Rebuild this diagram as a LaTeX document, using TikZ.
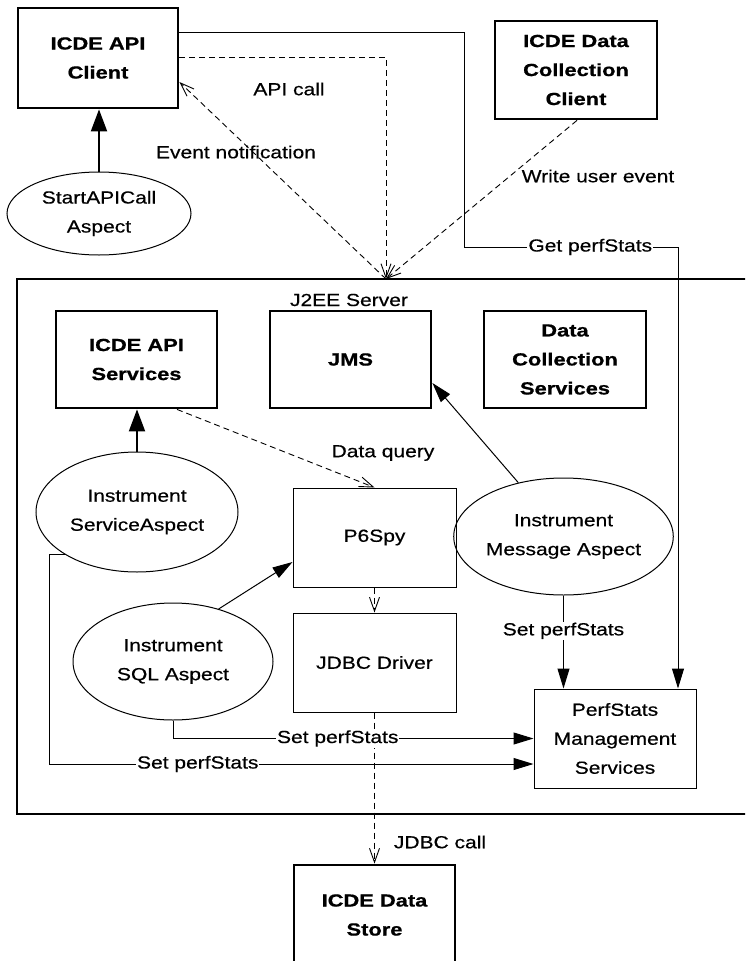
\documentclass[tikz,border=0pt]{standalone}
\usepackage{fontspec}
\setmainfont[FakeStretch=1.2,FakeBold=0.5,BoldFeatures={FakeStretch=1.25,FakeBold=0.8}]{Liberation Sans}
\usetikzlibrary{arrows.meta,shapes.geometric,calc}
\tikzset{
  txt/.style={font=\fontsize{17.5}{29}\selectfont, align=center},
  heavybox/.style={draw, line width=2.8pt, align=center, font=\fontsize{17.5}{29}\selectfont\bfseries, inner sep=0pt},
  plainbox/.style={draw, line width=1pt, txt, inner sep=0pt},
  aspect/.style={draw, ellipse, line width=1pt, txt, inner sep=0pt},
  lbl/.style={txt, inner sep=2pt},
  onlbl/.style={txt, fill=white, inner sep=1pt},
  conn/.style={line width=1pt, -{Triangle[length=20pt,width=12pt]}},
  plainline/.style={line width=1pt},
  thickconn/.style={line width=2pt, -{Triangle[length=22pt,width=16pt]}},
  dashconn/.style={line width=0.9pt, dash pattern=on 6pt off 4pt, -{Straight Barb[length=14pt,width=10pt]}},
}
\begin{document}
\begin{tikzpicture}[x=1pt,y=-1pt]
\useasboundingbox (0,0) rectangle (745,961);
\clip (0,0) rectangle (745,961);

% server
\node[draw, line width=1.5pt, minimum width=783pt, minimum height=535pt, inner sep=0pt] (server) at (408.5,546.5) {};
\node[lbl] (srvlbl) at (349,300) {J2EE Server};

% boxes
\node[heavybox, minimum width=160pt, minimum height=100pt] (client) at (98,58) {ICDE API\\Client};
\node[heavybox, minimum width=162pt, minimum height=98pt] (dcclient) at (576,70) {ICDE Data\\Collection\\Client};
\node[heavybox, minimum width=161pt, minimum height=97pt] (apisvc) at (136.5,359.5) {ICDE API\\Services};
\node[heavybox, minimum width=161pt, minimum height=97pt] (jms) at (350.5,359.5) {JMS};
\node[heavybox, minimum width=162pt, minimum height=97pt] (dcsvc) at (565,359.5) {Data\\Collection\\Services};
\node[plainbox, minimum width=163pt, minimum height=99pt] (p6spy) at (374.5,537.5) {P6Spy};
\node[plainbox, minimum width=163pt, minimum height=99pt] (jdbc) at (374.5,662.5) {JDBC Driver};
\node[plainbox, minimum width=162pt, minimum height=99pt] (perf) at (615,738.5) {PerfStats\\Management\\Services};
\node[heavybox, minimum width=161pt, minimum height=100pt] (store) at (374.5,915) {ICDE Data\\Store};

% aspects
\node[aspect, minimum width=184pt, minimum height=83pt] (startapi) at (99,213.5) {StartAPICall\\Aspect};
\node[aspect, minimum width=202pt, minimum height=120pt] (svcasp) at (137,512) {Instrument\\ServiceAspect};
\node[aspect, minimum width=200pt, minimum height=117pt] (sqlasp) at (173,661.5) {Instrument\\SQL Aspect};
\node[aspect, minimum width=201pt, minimum height=117pt] (msgasp) at (563.5,536.5) {Instrument\\Message Aspect};

% solid aspect arrows
\draw[thickconn] (startapi.north) -- (startapi.north |- client.south);
\draw[thickconn] (svcasp.north) -- (svcasp.north |- apisvc.south);
\draw[conn] (sqlasp.49) -- ($(p6spy.west)+(0,24.5)$);
\draw[conn] (msgasp.130) -- ($(jms.east)+(0,23.5)$);
\draw[conn] (msgasp.south) -- node[onlbl, pos=0.38] (msglbl) {Set perfStats} (msgasp.south |- perf.north);

% get perfStats
\coordinate (g1) at (464,32);
\coordinate (g2) at (464,247);
\coordinate (g3) at (678,247);
\draw[conn] ($(client.east)+(0,-26)$) -- (g1) -- (g2) -- node[onlbl, pos=0.59] (getlbl) {Get perfStats} (g3) -- (g3 |- perf.north);

% dashed calls
\coordinate (hub) at (386,279);
\coordinate (ac) at (386,57);
\draw[dashconn] ($(client.east)+(0,-1)$) -- (ac) -- (hub);
\node[lbl] (aclbl) at (289,89) {API call};
\draw[dashconn] (hub) -- ($(client.east)+(0,24)$);
\node[lbl] (evlbl) at (236,152) {Event notification};
\draw[dashconn] ($(dcclient.south)+(1,0)$) -- (hub);
\node[lbl] (wrlbl) at (598,176) {Write user event};

\draw[dashconn] ($(apisvc.south)+(40.5,0)$) -- (p6spy.north);
\node[lbl] (dqlbl) at (383,453) {Data query};
\draw[dashconn] (p6spy.south) -- (jdbc.north);
\draw[dashconn] (jdbc.south) -- (store.north);
\node[lbl] (jclbl) at (440,842) {JDBC call};

% set perfStats lines
\draw[conn] (sqlasp.south) -- (sqlasp.south |- perf.west) -- node[onlbl, pos=0.457] (sqllbl) {Set perfStats} (perf.west);
\coordinate (lx) at (49,764);
\draw[conn] (svcasp.211) -- (svcasp.211 -| lx) -- (lx) -- node[onlbl, pos=0.307] (svclbl) {Set perfStats} (lx -| perf.west);
\end{tikzpicture}
\end{document}
